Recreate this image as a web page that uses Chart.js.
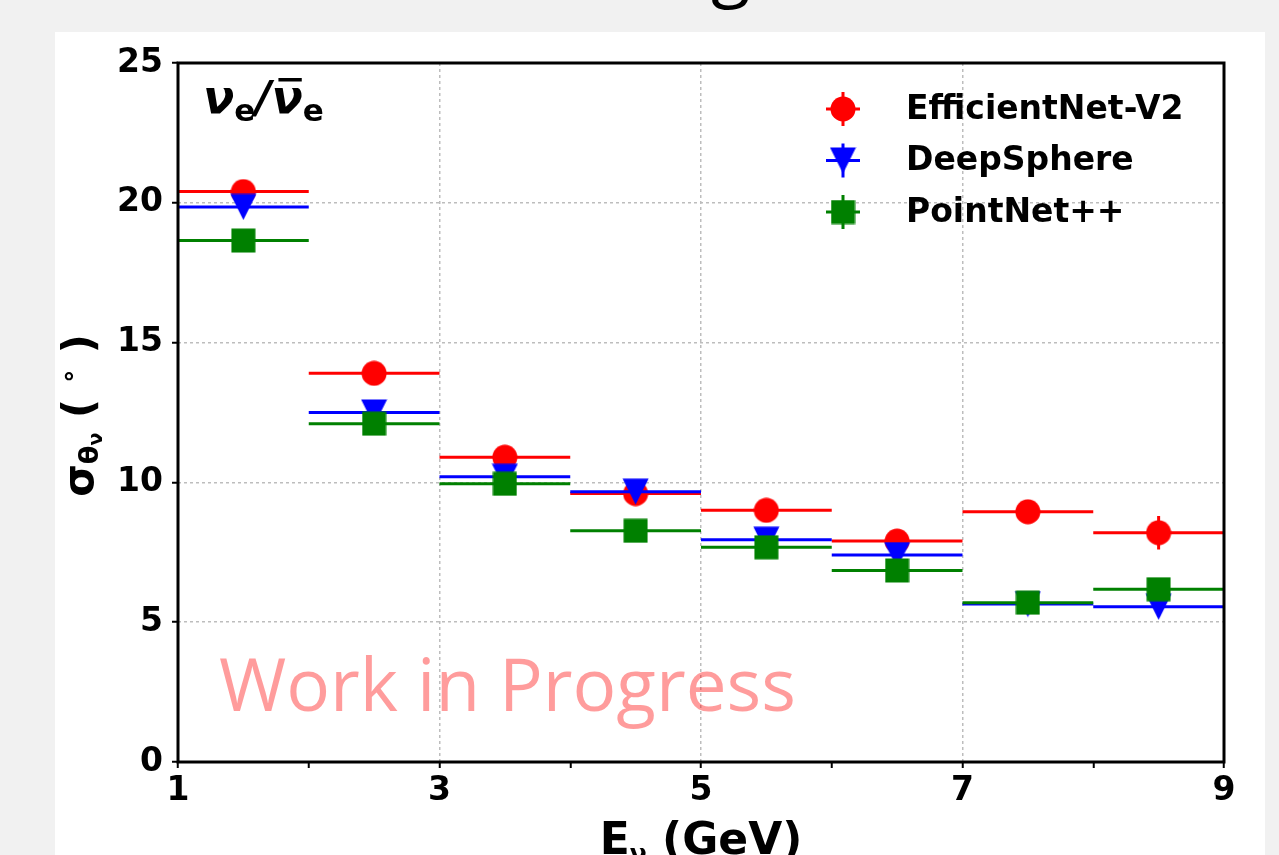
<!DOCTYPE html>
<html>
<head>
<meta charset="utf-8">
<script src="https://cdn.jsdelivr.net/npm/chart.js@4.4.1/dist/chart.umd.min.js"></script>
<style>
  html, body { margin: 0; padding: 0; width: 1279px; height: 855px; overflow: hidden; background: #f1f1f1; }
  #panel { position: absolute; left: 55px; top: 32px; width: 1210px; height: 900px; background: #fff; }
  #wrap { position: absolute; left: 55px; top: 0; width: 1210px; height: 892px; }
</style>
</head>
<body>
<div id="panel"></div>
<div id="wrap"><canvas id="chart"></canvas></div>
<script>
// energy bins (GeV)
const binEdges = [1, 2, 3, 4, 5, 6, 7, 8, 9];

// angular resolution (deg) per bin
const effNet = [20.4, 13.9, 10.9, 9.6, 9.0, 7.9, 8.95, 8.2];
const effNetErr = [0.2, 0.2, 0.2, 0.2, 0.25, 0.3, 0.3, 0.6];
const deepSphere = [19.85, 12.5, 10.2, 9.67, 7.95, 7.4, 5.65, 5.55];
const deepSphereErr = [0.2, 0.2, 0.2, 0.2, 0.2, 0.25, 0.3, 0.35];
const pointNet = [18.65, 12.1, 9.95, 8.27, 7.68, 6.85, 5.7, 6.18];
const pointNetErr = [0.15, 0.15, 0.15, 0.15, 0.2, 0.2, 0.25, 0.3];

const xTicks = [1, 3, 5, 7, 9];
const yTicks = [0, 5, 10, 15, 20, 25];

const FONT = '"DejaVu Sans"';

function makeMarker(shape, color, size) {
  const c = document.createElement("canvas");
  c.width = size;
  c.height = size;
  const g = c.getContext("2d");
  g.fillStyle = color;
  g.beginPath();
  if (shape === "circle") {
    g.arc(size / 2, size / 2, size / 2 - 0.5, 0, Math.PI * 2);
  } else if (shape === "down") {
    g.moveTo(0.5, 0.5);
    g.lineTo(size - 0.5, 0.5);
    g.lineTo(size / 2, size - 0.5);
    g.closePath();
  } else {
    g.rect(0.5, 0.5, size - 1, size - 1);
  }
  g.fill();
  return c;
}

const series = [
  { label: "EfficientNet-V2", values: effNet, errors: effNetErr, color: "#ff0000", marker: makeMarker("circle", "#ff0000", 26) },
  { label: "DeepSphere", values: deepSphere, errors: deepSphereErr, color: "#0000ff", marker: makeMarker("down", "#0000ff", 27) },
  { label: "PointNet++", values: pointNet, errors: pointNetErr, color: "#008000", marker: makeMarker("square", "#008000", 25) },
];

// horizontal bin-width bars and vertical error bars, broken by null gaps
function barSegments(values, errors) {
  const pts = [];
  values.forEach((v, i) => {
    const lo = binEdges[i], hi = binEdges[i + 1], mid = (lo + hi) / 2;
    pts.push({ x: lo, y: v }, { x: hi, y: v }, { x: hi, y: null });
    pts.push({ x: mid, y: v - errors[i] }, { x: mid, y: v + errors[i] }, { x: mid, y: null });
  });
  return pts;
}

function centers(values) {
  return values.map((v, i) => ({ x: (binEdges[i] + binEdges[i + 1]) / 2, y: v }));
}

const datasets = [];
series.forEach((s, k) => {
  datasets.push({
    label: s.label + " bars",
    data: barSegments(s.values, s.errors),
    showLine: true,
    spanGaps: false,
    borderColor: s.color,
    borderWidth: 3,
    pointRadius: 0,
    order: 6 - 2 * k,
  });
  datasets.push({
    label: s.label,
    data: centers(s.values),
    showLine: false,
    pointStyle: s.marker,
    pointRadius: 13,
    backgroundColor: s.color,
    borderColor: s.color,
    order: 5 - 2 * k,
  });
});

function drawRich(ctx, parts, x, y, align) {
  let total = 0;
  parts.forEach((p) => {
    ctx.font = p.font;
    p.w = ctx.measureText(p.t).width;
    total += p.w;
  });
  let cx = align === "center" ? x - total / 2 : x;
  ctx.textAlign = "left";
  ctx.textBaseline = "alphabetic";
  parts.forEach((p) => {
    ctx.font = p.font;
    ctx.fillText(p.t, cx, y + (p.dy || 0));
    p.x = cx;
    cx += p.w;
  });
  return parts;
}

const decor = {
  id: "decor",
  afterDatasetsDraw(chart) {
    const { ctx, chartArea: a } = chart;
    ctx.save();
    ctx.strokeStyle = "#000";
    ctx.lineWidth = 3;
    ctx.strokeRect(a.left, a.top, a.right - a.left, a.bottom - a.top);
    ctx.restore();
  },
  afterDraw(chart) {
    const { ctx, chartArea: a } = chart;
    ctx.save();
    ctx.fillStyle = "#000";

    // cut-off slide title
    ctx.font = '72px "Open Sans"';
    ctx.fillText("g", 656, -7);

    // legend
    series.forEach((s, i) => {
      const x = a.right - 381;
      const y = a.top + 46 + i * 51.5;
      ctx.strokeStyle = s.color;
      ctx.lineWidth = 3;
      ctx.beginPath();
      ctx.moveTo(x - 17, y); ctx.lineTo(x + 17, y);
      ctx.moveTo(x, y - 17); ctx.lineTo(x, y + 17);
      ctx.stroke();
      ctx.drawImage(s.marker, x - s.marker.width / 2, y - s.marker.height / 2);
      ctx.fillStyle = "#000";
      ctx.font = "bold 33px " + FONT;
      ctx.textAlign = "left";
      ctx.textBaseline = "middle";
      ctx.fillText(s.label, a.right - 318, y + 1);
    });

    // nu_e / anti-nu_e
    const nu = "italic bold 46px " + FONT, sub = "bold 31px " + FONT;
    const p = drawRich(ctx, [
      { t: "\u03bd", font: nu },
      { t: "e", font: sub, dy: 8 },
      { t: "/", font: "italic bold 44px " + FONT },
      { t: "\u03bd", font: nu },
      { t: "e", font: sub, dy: 8 },
    ], a.left + 25, 113);
    ctx.fillRect(p[3].x + 7, 78, p[3].w - 8, 3.5);

    // axis titles
    drawRich(ctx, [
      { t: "E", font: "bold 44px " + FONT },
      { t: "\u03bd", font: "bold 25px " + FONT, dy: 8 },
      { t: " (GeV)", font: "bold 44px " + FONT },
    ], (a.left + a.right) / 2, 854, "center");

    ctx.save();
    ctx.translate(38, (a.top + a.bottom) / 2 + 3);
    ctx.rotate(-Math.PI / 2);
    drawRich(ctx, [
      { t: "\u03c3", font: "bold 42px " + FONT },
      { t: "\u03b8", font: "bold 27px " + FONT, dy: 5 },
      { t: "\u03bd", font: "bold 19px " + FONT, dy: 9 },
      { t: " ( ", font: "bold 42px " + FONT },
      { t: "\u2218", font: "bold 26px " + FONT, dy: -16 },
      { t: " )", font: "bold 42px " + FONT },
    ], 0, 0, "center");
    ctx.restore();

    // watermark
    ctx.fillStyle = "rgba(255, 0, 0, 0.39)";
    ctx.font = '74px "Open Sans"';
    ctx.textBaseline = "alphabetic";
    const label = "Work in Progress";
    const w = ctx.measureText(label).width;
    ctx.translate(a.left + 41, 711);
    ctx.scale(577 / w, 1);
    ctx.fillText(label, 0, 0);
    ctx.restore();
  },
};

Chart.defaults.font.family = FONT;
Chart.defaults.color = "#000";

new Chart(document.getElementById("chart"), {
  type: "scatter",
  data: { datasets },
  options: {
    responsive: true,
    maintainAspectRatio: false,
    animation: false,
    events: [],
    layout: { padding: { left: 0, right: 41, top: 63, bottom: 0 } },
    plugins: { legend: { display: false }, tooltip: { enabled: false } },
    scales: {
      x: {
        type: "linear",
        min: binEdges[0],
        max: binEdges[binEdges.length - 1],
        afterFit: (scale) => { scale.height = 130; },
        ticks: {
          stepSize: 1,
          autoSkip: false,
          maxRotation: 0,
          padding: 4,
          font: { size: 33, weight: "bold" },
          callback: (v) => (xTicks.includes(v) ? String(v) : ""),
        },
        grid: {
          color: (c) => (c.tick && xTicks.includes(c.tick.value) && c.tick.value > binEdges[0] && c.tick.value < binEdges[binEdges.length - 1] ? "#bdbdbd" : "rgba(0,0,0,0)"),
          lineWidth: 1.5,
          tickColor: "#000",
          tickLength: 6,
          tickWidth: 2,
        },
        border: { display: false, dash: [3, 3] },
      },
      y: {
        min: yTicks[0],
        max: yTicks[yTicks.length - 1],
        afterFit: (scale) => { scale.width = 123; },
        ticks: {
          stepSize: 5,
          padding: 9,
          font: { size: 33, weight: "bold" },
          callback: (v) => (yTicks.includes(v) ? String(v) : ""),
        },
        grid: {
          color: (c) => (c.tick && c.tick.value > yTicks[0] && c.tick.value < yTicks[yTicks.length - 1] ? "#bdbdbd" : "rgba(0,0,0,0)"),
          lineWidth: 1.5,
          tickColor: "#000",
          tickLength: 6,
          tickWidth: 2,
        },
        border: { display: false, dash: [3, 3] },
      },
    },
  },
  plugins: [decor],
});
</script>
</body>
</html>
